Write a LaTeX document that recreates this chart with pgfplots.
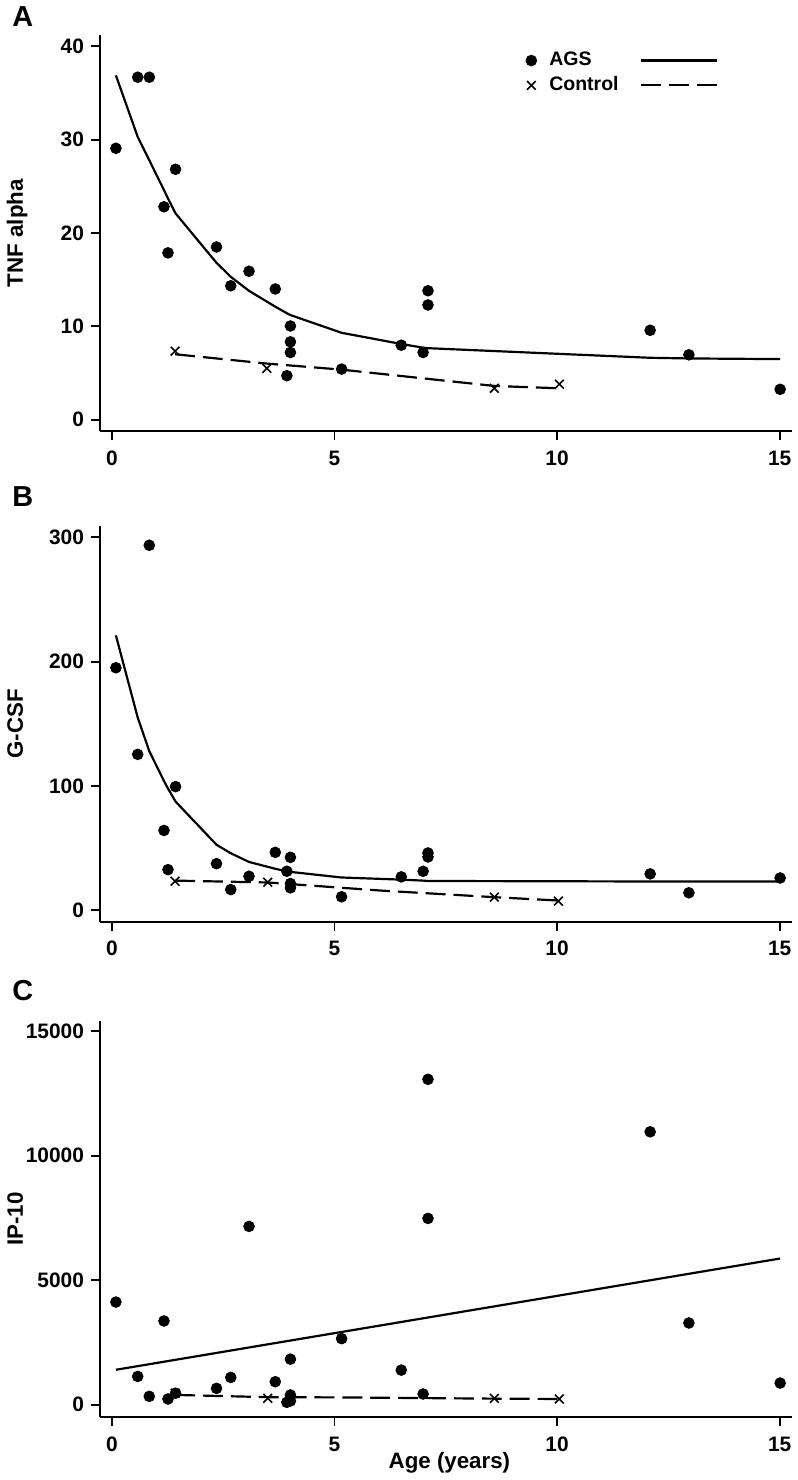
\documentclass[border=0pt]{standalone}
\usepackage{fontspec}
\setmainfont{Liberation Sans}
\usepackage{pgfplots}
\pgfplotsset{compat=1.18}
\pgfplotsset{
  panel/.style={
    scale only axis, width=347.5pt,
    axis lines=left, axis line style={-, line width=1pt},
    xmin=-0.268, xmax=15.276,
    xtick={0,5,10,15},
    tick align=outside, major tick length=4.5pt,
    every tick/.style={black, line width=1pt},
    tick label style={font=\bfseries\fontsize{10.5}{12}\selectfont},
    /pgf/number format/assume math mode=true,
    xticklabel style={yshift=-1.7pt},
    scaled y ticks=false,
    clip=false,
    label style={font=\bfseries\fontsize{11.2}{13}\selectfont},
    ylabel style={at={(axis description cs:-0.1115,0.5)}, anchor=base},
  },
  ags/.style={only marks, mark=*, mark size=2.7pt, black, mark options={fill=black}},
  ctl/.style={only marks, mark=x, mark size=3.1pt, black, mark options={line width=0.8pt}},
  agsfit/.style={no markers, black, line width=1.1pt},
  ctlfit/.style={no markers, black, line width=1.1pt, dash pattern=on 10pt off 4pt},
  legmark/.style={legend image code/.code={\draw[mark repeat=2,mark phase=2,##1] plot coordinates {(-3pt,0pt)(0pt,0pt)(3pt,0pt)};}},
  legline/.style={legend image code/.code={\draw[##1] (0pt,0pt) -- (38pt,0pt);}},
}
\begin{document}
\begin{tikzpicture}
\path (0,0) rectangle (398pt,-740pt);

% ---------------- Panel A ----------------
\begin{axis}[panel, at={(49pt,-16.65pt)}, anchor=north west, height=199.2pt,
  ymin=-1.28, ymax=41.25, ytick={0,10,20,30,40},
  ylabel={TNF alpha},
  legend columns=2, legend cell align=left,
  legend style={at={(axis description cs:0.615,0.962)}, anchor=north west, draw=none, fill=none,
    inner sep=0pt, font=\bfseries\fontsize{9.8}{11}\selectfont, nodes={inner sep=1pt}, row sep=2pt,
    /tikz/every odd column/.append style={column sep=5.3pt},
    /tikz/every even column/.append style={column sep=9.7pt}}]
\addplot[ags, legmark] coordinates {
(0.09,29.08)(0.58,36.7)(0.84,36.7)(1.43,26.83)(1.17,22.81)(1.26,17.87)(2.35,18.5)(2.67,14.34)
(3.08,15.9)(3.67,14.0)(4.01,10.03)(4.01,8.33)(4.01,7.19)(3.93,4.70)(5.16,5.41)(6.50,7.97)
(6.99,7.19)(7.10,13.81)(7.10,12.28)(12.09,9.57)(12.96,6.94)(15.01,3.24)};
\addlegendentry{AGS}
\addplot[agsfit, legline] coordinates {
(0.09,36.9)(0.58,30.3)(0.84,27.8)(1.17,24.6)(1.26,23.7)(1.43,22.1)(2.35,16.8)(2.67,15.3)
(3.08,13.8)(3.67,12.1)(3.93,11.4)(4.01,11.2)(5.16,9.3)(6.50,8.1)(6.99,7.7)(7.10,7.65)
(12.09,6.62)(12.96,6.55)(15.01,6.48)};
\addlegendentry{}
\addplot[ctl, legmark] coordinates {
(1.42,7.33)(3.48,5.48)(8.59,3.35)(10.05,3.79)};
\addlegendentry{Control}
\addplot[ctlfit, legline] coordinates {
(1.42,7.0)(3.48,6.0)(5.16,5.35)(8.59,3.6)(10.05,3.35)};
\addlegendentry{}
\end{axis}

% ---------------- Panel B ----------------
\begin{axis}[panel, at={(49pt,-263.35pt)}, anchor=north west, height=198.65pt,
  ymin=-9.0, ymax=308.8, ytick={0,100,200,300},
  ylabel={G-CSF}]
\addplot[ags] coordinates {
(0.09,195.0)(0.84,293.4)(0.58,125.4)(1.43,99.5)(1.17,64.3)(1.26,32.8)(2.35,37.6)(2.67,16.8)
(3.08,27.5)(3.67,46.7)(4.01,42.7)(3.93,31.5)(4.01,21.6)(4.01,18.2)(5.16,11.0)(6.50,27.0)
(6.99,31.5)(7.10,46.2)(7.10,43.0)(12.09,29.4)(12.96,14.2)(15.01,26.1)};
\addplot[agsfit] coordinates {
(0.09,221)(0.58,155)(0.84,128)(1.17,104)(1.26,98)(1.43,87.5)(2.35,52.8)(2.67,46)(3.08,39)
(3.67,33.5)(3.93,31.5)(4.01,31)(5.16,26.5)(6.50,24.8)(6.99,24)(7.10,23.7)(9.6,23.5)
(12.09,23.3)(12.96,23.3)(15.01,23.3)};
\addplot[ctl] coordinates {(1.42,23.5)(3.5,22.7)(8.59,10.7)(10.03,7.5)};
\addplot[ctlfit] coordinates {(1.42,24.0)(3.5,22.5)(6.04,16.0)(8.59,10.7)(10.03,8.0)};
\end{axis}

% ---------------- Panel C ----------------
\begin{axis}[panel, at={(49pt,-511.65pt)}, anchor=north west, height=199.2pt,
  ymin=-508, ymax=15428, ytick={0,5000,10000,15000},
  yticklabels={0,5000,10000,15000},
  ylabel={IP-10},
  xlabel={Age (years)},
  xlabel style={at={(axis description cs:0.505,-0.1295)}, anchor=base}]
\addplot[ags] coordinates {
(0.09,4120)(0.58,1133)(0.84,333)(1.17,3360)(1.26,227)(1.43,460)(2.35,653)(2.67,1093)
(3.08,7160)(3.67,920)(4.01,1827)(4.01,387)(3.93,93)(4.01,147)(5.16,2652)(6.50,1387)
(6.99,427)(7.10,13067)(7.10,7480)(12.09,10960)(12.96,3280)(15.01,867)};
\addplot[agsfit] coordinates {(0.09,1400)(15.01,5870)};
\addplot[ctl] coordinates {(1.42,460)(3.5,253)(8.59,253)(10.05,227)};
\addplot[ctlfit] coordinates {(1.42,390)(3.5,300)(5.16,290)(8.59,240)(10.05,227)};
\end{axis}

\node[anchor=base west, font=\bfseries\fontsize{14.5}{16}\selectfont] at (1.5pt,-12.5pt) {A};
\node[anchor=base west, font=\bfseries\fontsize{14.5}{16}\selectfont] at (1.5pt,-253.3pt) {B};
\node[anchor=base west, font=\bfseries\fontsize{14.5}{16}\selectfont] at (1.5pt,-501.5pt) {C};
\end{tikzpicture}
\end{document}
